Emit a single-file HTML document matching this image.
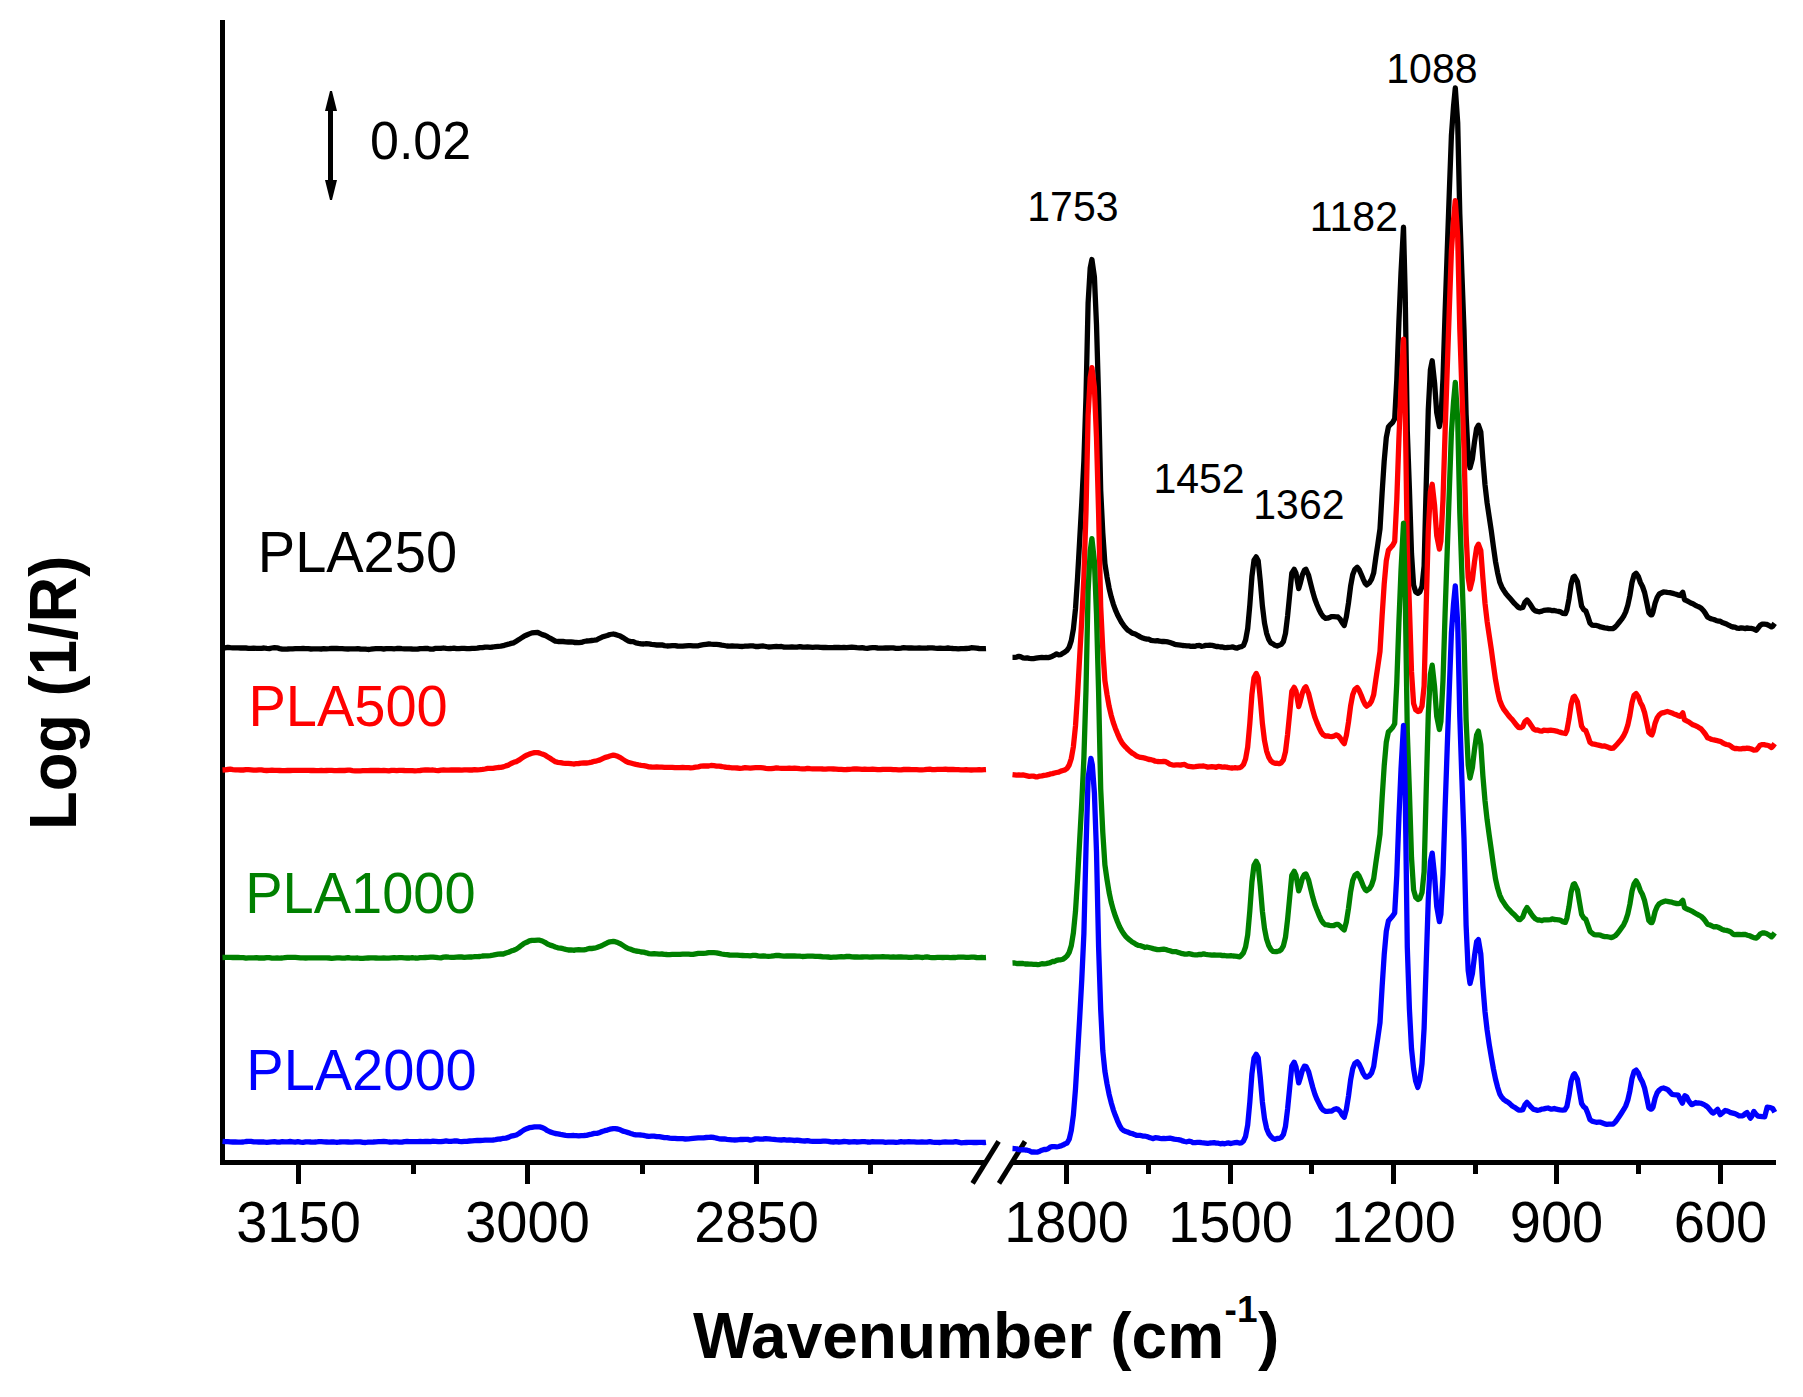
<!DOCTYPE html>
<html lang="en"><head><meta charset="utf-8"><title>PLA spectra</title>
<style>html,body{margin:0;padding:0;background:#fff;}svg{display:block;}text{font-family:"Liberation Sans",sans-serif;fill:#000;}.tk{font-size:56px;text-anchor:middle;}.pk{font-size:41px;}.lb{font-size:56px;}.ax{font-size:64px;font-weight:bold;}</style></head><body>
<svg width="1803" height="1397" viewBox="0 0 1803 1397">
<rect width="1803" height="1397" fill="#fff"/>
<g fill="#000" stroke="none" shape-rendering="crispEdges">
<rect x="220" y="20" width="5" height="1145"/>
<rect x="220" y="1160" width="765.5" height="5"/>
<rect x="1012.5" y="1160" width="763" height="5"/>
<rect x="296.0" y="1163" width="5" height="21"/>
<rect x="525.0" y="1163" width="5" height="21"/>
<rect x="754.0" y="1163" width="5" height="21"/>
<rect x="1064.0" y="1163" width="5" height="21"/>
<rect x="1228.0" y="1163" width="5" height="21"/>
<rect x="1391.0" y="1163" width="5" height="21"/>
<rect x="1554.0" y="1163" width="5" height="21"/>
<rect x="1718.0" y="1163" width="5" height="21"/>
<rect x="411.0" y="1163" width="5" height="11"/>
<rect x="640.0" y="1163" width="5" height="11"/>
<rect x="868.0" y="1163" width="5" height="11"/>
<rect x="1146.0" y="1163" width="5" height="11"/>
<rect x="1309.0" y="1163" width="5" height="11"/>
<rect x="1473.0" y="1163" width="5" height="11"/>
<rect x="1636.0" y="1163" width="5" height="11"/>
</g>
<g stroke="#000" stroke-width="5" fill="none" stroke-linecap="butt">
<path d="M998.6,1141.4 L972.6,1183.4"/>
<path d="M1025,1141.4 L999,1183.4"/>
</g>
<g fill="none" stroke="#000000" stroke-width="5.3" stroke-linejoin="round" stroke-linecap="butt">
<path d="M222.5,648.1 L225.1,647.9 L227.7,647.4 L230.3,647.7 L232.9,647.9 L235.5,647.8 L238.1,647.9 L240.7,648.0 L243.3,648.0 L245.9,648.0 L248.5,648.3 L251.1,648.4 L253.7,648.1 L256.3,648.4 L258.9,648.4 L261.5,648.3 L264.1,648.0 L266.7,648.4 L269.3,648.6 L271.9,648.0 L274.5,647.6 L277.1,647.8 L279.7,648.6 L282.3,649.2 L284.9,649.1 L287.5,649.0 L290.1,648.8 L292.7,648.9 L295.3,648.7 L297.9,648.7 L300.5,648.6 L303.1,648.5 L305.7,648.6 L308.3,648.7 L310.9,649.0 L313.5,648.9 L316.1,648.8 L318.7,648.8 L321.3,649.0 L323.9,648.7 L326.5,648.8 L329.1,648.7 L331.7,648.5 L334.3,648.5 L336.9,648.5 L339.5,648.6 L342.1,648.7 L344.7,648.9 L348.0,649.0 L349.9,648.8 L352.5,648.8 L355.1,648.8 L357.7,648.7 L360.3,649.0 L362.9,649.1 L365.5,649.1 L368.1,649.5 L370.7,649.2 L373.3,648.8 L375.9,648.7 L378.5,648.7 L381.1,648.7 L383.7,649.0 L386.3,648.7 L388.9,648.6 L391.5,648.7 L394.1,648.9 L396.7,648.5 L399.3,648.5 L401.9,648.7 L404.5,648.8 L407.1,648.9 L409.7,648.8 L412.3,649.0 L414.9,649.1 L417.5,649.2 L420.1,648.6 L422.7,648.6 L425.3,648.4 L427.9,648.5 L430.5,649.2 L433.1,649.1 L435.7,648.3 L438.3,648.4 L440.9,648.4 L443.5,648.0 L446.1,648.4 L448.7,648.7 L451.3,648.5 L453.9,648.1 L456.5,648.6 L459.1,648.6 L461.7,648.4 L464.3,648.3 L466.9,648.6 L469.5,648.7 L472.1,648.3 L474.7,648.3 L477.3,648.2 L479.9,647.6 L482.5,647.6 L485.1,647.1 L487.7,647.1 L490.3,647.3 L492.9,647.0 L495.5,646.6 L498.1,646.4 L500.7,646.2 L503.3,645.7 L505.9,644.8 L508.5,644.2 L511.1,643.4 L513.7,642.8 L516.3,641.2 L518.9,639.6 L521.5,637.9 L524.1,636.2 L526.7,635.0 L529.3,633.9 L531.9,632.9 L534.5,632.6 L537.8,632.5 L539.7,633.4 L542.3,634.6 L544.9,635.4 L547.5,636.7 L550.1,638.2 L552.7,639.6 L555.3,641.1 L557.9,641.5 L560.5,641.5 L563.1,641.5 L565.7,641.8 L568.3,642.0 L570.9,641.9 L573.5,642.2 L574.4,642.5 L576.1,642.5 L578.7,642.7 L581.3,642.4 L583.9,641.5 L586.5,641.0 L589.1,640.8 L591.7,640.5 L594.3,640.2 L596.9,639.8 L599.5,638.3 L602.1,637.1 L604.7,636.2 L607.3,635.5 L609.9,634.5 L613.3,634.0 L615.1,634.4 L617.7,635.2 L620.3,636.1 L622.9,637.6 L625.5,639.2 L628.1,640.9 L630.7,641.6 L633.3,641.7 L635.9,642.9 L638.5,643.4 L641.1,643.8 L643.7,644.0 L646.3,643.6 L648.9,643.9 L651.5,644.4 L654.1,644.7 L656.7,645.0 L659.3,645.0 L661.9,644.9 L664.5,645.6 L667.1,646.0 L669.7,645.9 L672.3,645.6 L674.9,645.7 L677.5,646.0 L680.1,646.2 L682.7,646.2 L685.3,645.9 L688.7,645.6 L690.5,645.7 L693.1,645.9 L695.7,645.9 L698.3,645.8 L700.9,645.1 L703.5,644.7 L706.1,644.3 L708.7,644.0 L711.0,644.2 L713.9,644.3 L716.5,644.4 L719.1,644.6 L721.7,645.1 L724.3,645.5 L726.9,646.0 L729.5,646.1 L732.1,645.9 L734.7,646.2 L737.3,646.1 L739.9,646.3 L742.5,646.5 L745.1,646.1 L747.7,646.2 L750.3,645.9 L752.9,645.9 L755.5,646.5 L758.1,646.5 L760.7,646.2 L763.3,646.0 L765.9,646.5 L768.5,647.0 L771.1,646.8 L773.7,646.6 L776.3,646.5 L778.9,646.6 L781.5,646.5 L784.1,647.1 L786.7,647.2 L789.3,647.2 L791.9,646.9 L794.5,647.2 L797.1,647.1 L799.7,646.7 L802.3,647.0 L804.9,647.1 L807.5,647.0 L810.1,647.1 L812.7,647.3 L815.3,647.2 L817.9,647.1 L820.5,647.4 L823.1,647.5 L825.7,647.5 L828.3,647.6 L830.9,647.6 L833.5,647.5 L836.1,647.3 L838.7,647.5 L841.3,647.7 L843.9,647.3 L846.5,647.6 L849.1,647.3 L851.7,647.1 L854.3,647.4 L856.9,647.7 L859.5,647.8 L862.1,647.6 L864.7,648.2 L867.3,648.3 L869.9,647.9 L872.5,647.7 L875.1,647.7 L877.7,648.0 L880.3,648.1 L882.9,648.2 L885.5,647.9 L888.1,648.0 L890.7,647.9 L893.3,647.9 L895.9,648.4 L898.5,648.3 L901.1,648.1 L903.7,647.7 L906.3,647.8 L908.9,648.0 L911.5,648.0 L914.1,648.2 L916.7,648.2 L919.3,648.0 L921.9,648.1 L924.5,648.1 L927.1,648.0 L929.7,647.8 L932.3,647.9 L934.9,648.2 L937.5,648.4 L940.1,648.1 L942.7,648.4 L945.3,648.3 L947.9,648.0 L950.5,648.3 L953.1,648.5 L955.7,648.6 L958.3,648.9 L960.9,648.6 L963.5,648.6 L966.1,648.5 L968.7,648.4 L971.3,647.7 L973.9,647.9 L976.5,648.2 L979.1,648.5 L981.7,648.6 L984.3,648.7 L986.0,648.6"/>
<path d="M1012.5,657.4 L1014.6,657.4 L1016.7,657.1 L1018.8,656.3 L1020.9,656.9 L1023.0,657.9 L1025.1,658.2 L1027.2,657.9 L1029.3,658.4 L1031.4,658.6 L1033.5,658.6 L1036.0,658.2 L1037.7,657.9 L1039.8,657.6 L1041.9,657.4 L1044.0,657.6 L1046.1,657.5 L1048.2,657.6 L1050.3,657.1 L1052.4,656.2 L1054.5,655.1 L1056.6,653.9 L1058.7,654.9 L1060.8,654.7 L1062.9,653.2 L1065.0,651.9 L1067.1,650.3 L1069.2,647.1 L1071.3,640.6 L1073.4,629.0 L1075.5,608.7 L1077.6,577.0 L1079.7,539.6 L1081.8,502.4 L1083.9,460.7 L1086.0,396.9 L1088.1,303.2 L1090.2,268.0 L1091.9,259.5 L1094.4,276.8 L1096.5,324.6 L1098.6,397.6 L1100.7,490.3 L1102.8,532.9 L1104.9,563.5 L1107.0,576.9 L1109.1,588.3 L1111.2,597.1 L1113.3,604.1 L1115.4,609.9 L1117.5,614.7 L1119.6,618.8 L1121.7,622.6 L1123.8,625.6 L1125.9,628.2 L1128.0,630.3 L1130.1,631.6 L1132.2,633.1 L1134.3,633.7 L1136.4,634.7 L1138.5,635.9 L1140.6,637.1 L1142.7,638.0 L1144.8,638.6 L1146.9,639.1 L1149.0,639.2 L1151.1,640.4 L1153.2,640.7 L1155.3,640.8 L1157.4,640.6 L1159.5,641.2 L1161.6,641.5 L1163.7,641.4 L1165.8,641.6 L1167.9,641.9 L1170.0,642.6 L1172.1,643.3 L1174.2,644.1 L1176.3,644.7 L1178.4,644.9 L1180.5,645.1 L1182.6,645.5 L1184.7,645.6 L1186.8,645.8 L1188.9,645.8 L1191.0,646.3 L1193.1,646.1 L1195.2,646.3 L1197.3,645.6 L1199.4,645.4 L1201.5,646.3 L1203.6,646.0 L1205.7,645.4 L1207.8,645.3 L1209.9,645.2 L1212.0,645.3 L1214.1,645.9 L1216.2,646.5 L1218.3,646.5 L1220.4,647.0 L1222.5,647.0 L1224.6,647.6 L1226.7,647.5 L1228.8,647.3 L1230.9,647.2 L1233.0,647.0 L1235.1,647.8 L1237.2,648.0 L1239.7,647.0 L1241.4,646.6 L1243.5,645.5 L1245.6,640.0 L1247.7,628.5 L1249.8,605.3 L1251.9,576.7 L1254.0,560.3 L1256.2,556.9 L1258.2,560.7 L1260.3,581.2 L1262.4,605.9 L1264.5,623.0 L1266.6,633.3 L1268.7,639.4 L1270.8,642.8 L1272.9,643.8 L1275.0,645.3 L1277.1,646.0 L1279.0,645.3 L1281.3,644.4 L1283.4,641.7 L1285.5,633.4 L1287.6,616.0 L1289.7,594.6 L1291.8,573.2 L1294.2,569.3 L1296.0,573.1 L1298.7,588.6 L1300.2,583.5 L1302.3,575.0 L1304.4,570.2 L1305.9,569.2 L1308.6,575.3 L1310.7,583.9 L1312.8,592.1 L1314.9,599.2 L1317.0,604.8 L1319.1,609.7 L1321.2,613.8 L1323.3,616.7 L1325.6,618.4 L1327.5,618.2 L1329.6,617.4 L1331.7,616.6 L1333.8,616.7 L1336.3,616.8 L1338.0,617.0 L1340.1,619.1 L1342.2,622.7 L1344.2,625.5 L1346.4,616.6 L1348.5,602.9 L1350.6,586.3 L1352.7,574.8 L1354.8,569.4 L1357.2,567.3 L1359.0,569.4 L1361.1,574.0 L1363.2,579.1 L1365.3,583.5 L1366.7,584.9 L1369.5,582.7 L1371.6,579.1 L1373.7,572.8 L1375.8,557.7 L1377.9,543.6 L1380.0,528.8 L1382.1,493.2 L1384.2,460.9 L1386.3,437.4 L1388.4,426.9 L1390.5,424.4 L1392.6,422.6 L1394.7,418.7 L1396.8,380.0 L1398.9,322.2 L1401.0,272.5 L1403.5,227.2 L1405.2,294.3 L1407.3,431.4 L1409.4,488.7 L1411.5,553.5 L1413.6,585.1 L1415.7,591.9 L1418.1,593.4 L1419.9,591.7 L1422.0,586.5 L1424.1,566.0 L1426.2,485.6 L1428.3,409.6 L1430.4,369.8 L1432.2,360.8 L1434.6,383.0 L1436.7,412.5 L1439.4,426.6 L1440.9,418.8 L1443.0,378.4 L1445.1,312.3 L1447.2,252.0 L1449.3,192.5 L1451.4,135.8 L1453.5,106.8 L1455.3,87.9 L1457.7,122.6 L1459.8,213.7 L1461.9,273.5 L1464.0,330.0 L1466.1,414.4 L1468.2,456.9 L1470.0,467.7 L1472.4,458.8 L1474.5,441.8 L1476.6,428.5 L1478.4,425.2 L1480.8,432.0 L1482.9,459.7 L1485.0,484.8 L1487.1,502.9 L1489.2,516.9 L1491.3,530.9 L1493.4,546.7 L1495.5,561.4 L1497.6,572.8 L1499.7,582.0 L1501.8,587.1 L1503.9,590.6 L1506.0,593.8 L1508.1,596.2 L1510.2,598.6 L1512.3,601.0 L1514.4,603.4 L1516.5,605.5 L1518.6,607.5 L1519.8,607.9 L1520.7,608.0 L1522.8,607.5 L1524.9,602.3 L1527.0,600.0 L1529.1,602.6 L1531.2,605.8 L1533.3,609.2 L1535.4,610.9 L1537.5,611.4 L1539.6,611.8 L1542.0,611.1 L1543.8,610.4 L1545.9,610.1 L1548.0,610.0 L1550.7,610.2 L1552.2,610.6 L1554.3,610.5 L1556.4,611.0 L1558.5,611.3 L1560.6,611.8 L1562.7,613.3 L1565.4,613.7 L1566.9,610.1 L1569.0,598.9 L1571.1,584.2 L1573.2,577.1 L1574.5,576.2 L1577.4,581.5 L1579.5,593.9 L1581.6,606.2 L1583.7,609.7 L1585.8,611.0 L1587.9,616.6 L1590.0,623.1 L1592.1,625.1 L1594.2,625.4 L1596.3,625.4 L1598.4,626.1 L1600.5,626.9 L1602.6,627.3 L1604.7,627.8 L1606.8,628.2 L1608.9,628.6 L1611.5,628.7 L1613.1,628.5 L1615.2,627.0 L1617.3,624.7 L1619.4,622.0 L1621.5,619.4 L1623.6,616.3 L1625.7,611.9 L1627.8,605.3 L1629.9,595.5 L1632.0,582.5 L1634.1,575.0 L1636.1,573.2 L1638.3,576.5 L1640.4,582.5 L1642.5,586.5 L1644.6,592.5 L1646.7,602.1 L1648.8,612.6 L1650.9,614.8 L1651.9,614.9 L1653.0,612.0 L1655.1,603.1 L1657.2,597.3 L1659.3,594.0 L1661.4,593.0 L1663.5,592.0 L1665.6,592.1 L1667.3,592.4 L1669.8,592.7 L1671.9,593.2 L1674.0,593.7 L1676.1,594.3 L1678.2,595.1 L1680.0,595.5 L1682.8,592.3 L1684.5,599.7 L1686.6,600.6 L1688.7,601.8 L1690.8,603.0 L1692.9,603.8 L1695.0,605.1 L1697.1,606.1 L1699.2,607.0 L1701.3,608.3 L1703.4,610.5 L1705.5,613.6 L1707.6,617.2 L1709.7,618.2 L1711.8,619.0 L1713.9,619.5 L1716.0,620.4 L1718.1,621.1 L1720.2,621.2 L1722.3,622.5 L1724.4,623.2 L1726.5,624.0 L1728.6,625.2 L1730.7,626.2 L1732.8,627.0 L1734.9,627.2 L1737.0,628.2 L1739.1,628.4 L1741.2,627.8 L1743.3,628.2 L1745.4,628.6 L1746.8,628.0 L1749.6,628.3 L1751.7,628.4 L1753.8,629.1 L1756.4,630.3 L1758.0,628.1 L1760.1,625.3 L1762.2,624.2 L1764.3,624.1 L1766.4,624.3 L1768.5,625.2 L1771.5,626.9 L1772.7,626.2 L1774.7,623.4"/>
</g>
<g fill="none" stroke="#ff0000" stroke-width="5.3" stroke-linejoin="round" stroke-linecap="butt">
<path d="M222.5,770.0 L225.1,769.8 L227.7,769.5 L230.3,769.2 L232.9,769.6 L235.5,769.8 L238.1,769.8 L240.7,770.0 L243.3,770.0 L245.9,769.7 L248.5,769.7 L251.1,769.9 L253.7,770.2 L256.3,770.2 L258.9,769.8 L261.5,769.9 L264.1,770.3 L266.7,770.5 L269.3,770.3 L271.9,770.2 L274.5,770.4 L277.1,770.3 L279.7,770.5 L282.3,770.7 L284.9,770.6 L287.5,770.5 L290.1,770.5 L292.7,770.3 L295.3,770.3 L297.9,770.3 L300.5,770.3 L303.1,770.3 L305.7,770.4 L308.3,770.4 L310.9,770.5 L313.5,770.5 L316.1,770.7 L318.7,770.7 L321.3,770.4 L323.9,770.7 L326.5,770.5 L329.1,770.3 L331.7,770.4 L334.3,770.6 L336.9,770.7 L339.5,770.4 L342.1,770.5 L344.7,770.5 L348.0,770.2 L349.9,770.2 L352.5,770.6 L355.1,770.8 L357.7,770.8 L360.3,770.8 L362.9,770.7 L365.5,770.7 L368.1,770.7 L370.7,770.4 L373.3,770.5 L375.9,770.5 L378.5,770.3 L381.1,770.6 L383.7,770.4 L386.3,770.6 L388.9,770.9 L391.5,770.4 L394.1,770.4 L396.7,770.7 L399.3,770.3 L401.9,770.3 L404.5,770.5 L407.1,770.6 L409.7,770.6 L412.3,770.6 L414.9,770.8 L417.5,770.7 L420.1,770.5 L422.7,770.2 L425.3,770.0 L427.9,769.9 L430.5,770.2 L433.1,770.0 L435.7,770.4 L438.3,770.6 L440.9,770.1 L443.5,770.0 L446.1,770.1 L448.7,770.2 L451.3,770.0 L453.9,770.0 L456.5,769.9 L459.1,770.0 L461.7,770.2 L464.3,769.9 L466.9,769.9 L469.5,770.0 L472.1,770.0 L474.7,769.7 L477.3,769.8 L479.9,769.7 L482.5,769.4 L485.1,769.0 L487.7,768.4 L490.3,768.3 L492.9,768.3 L495.5,767.9 L498.1,767.5 L500.7,767.4 L503.3,766.9 L505.9,765.9 L508.5,765.1 L511.1,763.5 L513.7,762.3 L516.3,761.6 L518.9,760.2 L521.5,758.4 L524.1,756.6 L526.7,755.2 L529.3,754.1 L531.9,753.3 L534.5,752.6 L537.8,752.6 L539.7,753.1 L542.3,754.1 L544.9,755.0 L547.5,756.7 L550.1,758.3 L552.7,760.1 L555.3,761.7 L557.9,762.3 L560.5,762.6 L563.1,763.1 L565.7,763.4 L568.3,763.3 L570.9,763.6 L573.5,764.0 L574.4,764.0 L576.1,763.7 L578.7,763.5 L581.3,763.2 L583.9,762.9 L586.5,763.0 L589.1,762.7 L591.7,762.1 L594.3,761.3 L596.9,760.8 L599.5,760.1 L602.1,758.8 L604.7,757.6 L607.3,756.9 L609.9,756.0 L613.3,755.2 L615.1,755.4 L617.7,756.3 L620.3,757.6 L622.9,759.4 L625.5,761.1 L628.1,762.4 L630.7,763.0 L633.3,763.7 L635.9,764.4 L638.5,764.9 L641.1,765.3 L643.7,765.6 L646.3,766.2 L648.9,766.8 L651.5,767.0 L654.1,767.1 L656.7,767.0 L659.3,767.2 L661.9,767.2 L664.5,767.4 L667.1,767.3 L669.7,767.3 L672.3,767.4 L674.9,767.7 L677.5,767.7 L680.1,767.7 L682.7,767.5 L685.3,767.6 L688.7,767.6 L690.5,767.9 L693.1,767.6 L695.7,767.2 L698.3,766.8 L700.9,766.2 L703.5,766.0 L706.1,766.0 L708.7,766.0 L711.0,765.5 L713.9,765.7 L716.5,766.1 L719.1,766.2 L721.7,766.5 L724.3,767.0 L726.9,767.3 L729.5,767.5 L732.1,767.9 L734.7,767.8 L737.3,768.0 L739.9,768.3 L742.5,768.2 L745.1,767.7 L747.7,767.9 L750.3,768.1 L752.9,767.8 L755.5,767.7 L758.1,767.7 L760.7,767.7 L763.3,767.9 L765.9,768.3 L768.5,768.6 L771.1,768.7 L773.7,768.3 L776.3,767.9 L778.9,768.2 L781.5,768.3 L784.1,768.4 L786.7,768.3 L789.3,768.1 L791.9,768.3 L794.5,768.1 L797.1,768.3 L799.7,768.6 L802.3,768.8 L804.9,768.8 L807.5,768.3 L810.1,768.7 L812.7,768.9 L815.3,768.8 L817.9,768.9 L820.5,768.8 L823.1,769.0 L825.7,769.1 L828.3,768.8 L830.9,768.9 L833.5,769.0 L836.1,769.1 L838.7,769.3 L841.3,769.4 L843.9,769.6 L846.5,769.5 L849.1,769.3 L851.7,769.2 L854.3,769.0 L856.9,769.0 L859.5,769.1 L862.1,769.3 L864.7,769.2 L867.3,769.3 L869.9,769.3 L872.5,769.2 L875.1,769.4 L877.7,769.7 L880.3,769.7 L882.9,769.3 L885.5,769.3 L888.1,769.3 L890.7,769.4 L893.3,769.7 L895.9,769.7 L898.5,769.8 L901.1,769.8 L903.7,769.5 L906.3,769.4 L908.9,769.5 L911.5,769.7 L914.1,769.6 L916.7,769.7 L919.3,769.8 L921.9,769.8 L924.5,769.6 L927.1,769.3 L929.7,769.2 L932.3,769.7 L934.9,769.6 L937.5,769.4 L940.1,769.4 L942.7,769.3 L945.3,769.2 L947.9,769.5 L950.5,769.4 L953.1,769.5 L955.7,769.7 L958.3,769.7 L960.9,769.8 L963.5,769.8 L966.1,769.7 L968.7,769.8 L971.3,770.0 L973.9,769.9 L976.5,769.9 L979.1,769.7 L981.7,769.8 L984.3,769.7 L986.0,769.6"/>
<path d="M1012.5,774.6 L1014.6,774.8 L1016.7,775.1 L1018.8,774.9 L1020.9,775.1 L1023.0,774.9 L1025.1,775.3 L1027.2,775.8 L1029.3,776.3 L1031.4,776.2 L1033.5,776.2 L1036.0,776.8 L1037.7,776.8 L1039.8,776.1 L1041.9,775.9 L1044.0,775.4 L1046.1,775.2 L1048.2,774.7 L1050.3,773.9 L1052.4,773.6 L1054.5,773.0 L1056.6,772.5 L1058.7,772.1 L1060.8,771.1 L1062.9,770.5 L1065.0,769.9 L1067.1,768.4 L1069.2,765.0 L1071.3,758.5 L1073.4,746.6 L1075.5,726.0 L1077.6,694.0 L1079.7,656.3 L1081.8,618.9 L1083.9,576.8 L1086.0,511.9 L1088.1,415.6 L1090.2,377.8 L1091.9,367.7 L1094.4,387.3 L1096.5,437.6 L1098.6,513.2 L1100.7,606.6 L1102.8,649.6 L1104.9,680.7 L1107.0,694.4 L1109.1,706.2 L1111.2,715.2 L1113.3,722.5 L1115.4,728.4 L1117.5,733.6 L1119.6,738.4 L1121.7,742.3 L1123.8,745.1 L1125.9,747.3 L1128.0,749.6 L1130.1,751.4 L1132.2,753.1 L1134.3,754.3 L1136.4,755.9 L1138.5,756.7 L1140.6,757.4 L1142.7,757.7 L1144.8,758.1 L1146.9,758.7 L1149.0,759.5 L1151.1,759.7 L1153.2,760.3 L1155.3,761.2 L1157.4,761.5 L1159.5,761.6 L1161.6,761.7 L1163.7,761.4 L1165.8,761.7 L1167.9,762.9 L1170.0,764.2 L1172.1,764.8 L1174.2,765.1 L1176.3,764.9 L1178.4,764.8 L1180.5,765.2 L1182.6,764.7 L1184.7,764.5 L1186.8,765.7 L1188.9,766.4 L1191.0,766.6 L1193.1,766.9 L1195.2,766.7 L1197.3,766.4 L1199.4,766.1 L1201.5,766.1 L1203.6,766.0 L1205.7,766.5 L1207.8,767.1 L1209.9,766.9 L1212.0,766.7 L1214.1,766.8 L1216.2,767.3 L1218.3,766.4 L1220.4,766.6 L1222.5,767.2 L1224.6,767.0 L1226.7,767.1 L1228.8,767.7 L1230.9,768.0 L1233.0,768.0 L1235.1,767.7 L1237.2,768.0 L1239.7,767.6 L1241.4,766.8 L1243.5,764.5 L1245.6,758.9 L1247.7,747.0 L1249.8,723.4 L1251.9,694.5 L1254.0,677.7 L1256.2,673.4 L1258.2,677.8 L1260.3,698.6 L1262.4,723.4 L1264.5,740.6 L1266.6,751.1 L1268.7,757.1 L1270.8,760.8 L1272.9,762.6 L1275.0,763.3 L1277.1,763.2 L1279.0,763.7 L1281.3,762.7 L1283.4,759.9 L1285.5,751.6 L1287.6,734.3 L1289.7,712.9 L1291.8,691.4 L1294.2,687.4 L1296.0,691.1 L1298.7,706.6 L1300.2,701.4 L1302.3,693.0 L1304.4,688.2 L1305.9,686.8 L1308.6,693.4 L1310.7,702.0 L1312.8,710.3 L1314.9,717.4 L1317.0,722.9 L1319.1,727.8 L1321.2,732.1 L1323.3,734.8 L1325.6,736.1 L1327.5,735.8 L1329.6,736.3 L1331.7,736.7 L1333.8,736.2 L1336.3,734.8 L1338.0,735.6 L1340.1,737.9 L1342.2,741.2 L1344.2,743.7 L1346.4,735.4 L1348.5,722.2 L1350.6,706.0 L1352.7,694.8 L1354.8,689.6 L1357.2,687.5 L1359.0,690.2 L1361.1,695.0 L1363.2,700.5 L1365.3,704.7 L1366.7,706.2 L1369.5,704.2 L1371.6,701.0 L1373.7,694.7 L1375.8,679.9 L1377.9,665.9 L1380.0,651.4 L1382.1,616.1 L1384.2,584.0 L1386.3,560.7 L1388.4,550.2 L1390.5,547.7 L1392.6,545.4 L1394.7,541.4 L1396.8,499.9 L1398.9,439.4 L1401.0,387.0 L1403.5,339.1 L1405.2,407.7 L1407.3,547.4 L1409.4,606.4 L1411.5,671.7 L1413.6,703.5 L1415.7,709.9 L1418.1,711.5 L1419.9,710.9 L1422.0,706.1 L1424.1,686.1 L1426.2,606.3 L1428.3,530.8 L1430.4,491.6 L1432.2,484.3 L1434.6,505.6 L1436.7,535.4 L1439.4,549.1 L1440.9,541.1 L1443.0,499.4 L1445.1,431.9 L1447.2,370.1 L1449.3,309.2 L1451.4,251.1 L1453.5,220.5 L1455.3,200.6 L1457.7,236.7 L1459.8,329.2 L1461.9,390.5 L1464.0,448.3 L1466.1,534.1 L1468.2,577.7 L1470.0,589.1 L1472.4,579.7 L1474.5,561.9 L1476.6,547.8 L1478.4,544.2 L1480.8,550.5 L1482.9,578.2 L1485.0,603.3 L1487.1,621.3 L1489.2,635.3 L1491.3,649.3 L1493.4,664.9 L1495.5,679.6 L1497.6,691.1 L1499.7,700.3 L1501.8,705.5 L1503.9,709.4 L1506.0,712.2 L1508.1,715.0 L1510.2,717.5 L1512.3,719.7 L1514.4,722.3 L1516.5,725.1 L1518.6,727.4 L1519.8,727.7 L1520.7,727.6 L1522.8,726.4 L1524.9,721.5 L1527.0,719.8 L1529.1,722.3 L1531.2,725.4 L1533.3,728.7 L1535.4,730.1 L1537.5,730.0 L1539.6,730.8 L1542.0,731.1 L1543.8,730.2 L1545.9,730.3 L1548.0,730.5 L1550.7,730.2 L1552.2,730.4 L1554.3,730.7 L1556.4,731.1 L1558.5,731.8 L1560.6,732.4 L1562.7,733.0 L1565.4,733.5 L1566.9,730.4 L1569.0,719.1 L1571.1,704.5 L1573.2,697.3 L1574.5,696.2 L1577.4,701.7 L1579.5,714.0 L1581.6,726.2 L1583.7,729.5 L1585.8,730.6 L1587.9,736.1 L1590.0,742.4 L1592.1,743.8 L1594.2,744.2 L1596.3,744.7 L1598.4,745.1 L1600.5,745.6 L1602.6,746.2 L1604.7,746.0 L1606.8,746.8 L1608.9,747.6 L1611.5,748.4 L1613.1,748.2 L1615.2,746.3 L1617.3,744.0 L1619.4,741.6 L1621.5,739.0 L1623.6,735.8 L1625.7,731.4 L1627.8,725.2 L1629.9,715.4 L1632.0,702.6 L1634.1,695.2 L1636.1,693.6 L1638.3,696.7 L1640.4,702.4 L1642.5,706.3 L1644.6,712.6 L1646.7,722.3 L1648.8,732.4 L1650.9,734.5 L1651.9,734.9 L1653.0,732.1 L1655.1,723.2 L1657.2,717.7 L1659.3,714.8 L1661.4,713.2 L1663.5,712.7 L1665.6,712.0 L1667.3,711.5 L1669.8,712.2 L1671.9,712.9 L1674.0,714.0 L1676.1,714.6 L1678.2,715.7 L1680.0,716.3 L1682.8,712.8 L1684.5,719.9 L1686.6,720.8 L1688.7,721.8 L1690.8,723.3 L1692.9,724.8 L1695.0,725.6 L1697.1,726.4 L1699.2,727.8 L1701.3,729.1 L1703.4,731.6 L1705.5,734.4 L1707.6,737.8 L1709.7,738.6 L1711.8,739.5 L1713.9,739.9 L1716.0,740.3 L1718.1,740.9 L1720.2,741.3 L1722.3,742.6 L1724.4,743.8 L1726.5,744.5 L1728.6,744.8 L1730.7,746.0 L1732.8,747.8 L1734.9,748.6 L1737.0,748.5 L1739.1,748.8 L1741.2,748.8 L1743.3,748.3 L1745.4,748.5 L1746.8,748.2 L1749.6,748.5 L1751.7,749.1 L1753.8,750.2 L1756.4,749.9 L1758.0,748.0 L1760.1,745.2 L1762.2,744.6 L1764.0,744.6 L1766.4,745.2 L1768.5,745.5 L1771.5,747.5 L1772.7,746.4 L1774.7,743.6"/>
</g>
<g fill="none" stroke="#008000" stroke-width="5.3" stroke-linejoin="round" stroke-linecap="butt">
<path d="M222.5,957.5 L225.1,957.4 L227.7,957.4 L230.3,957.3 L232.9,957.5 L235.5,957.4 L238.1,957.5 L240.7,957.6 L243.3,957.7 L245.9,958.2 L248.5,957.8 L251.1,957.9 L253.7,957.9 L256.3,957.7 L258.9,958.0 L261.5,957.9 L264.1,958.0 L266.7,957.7 L269.3,957.7 L271.9,958.1 L274.5,958.1 L277.1,958.0 L279.7,958.1 L282.3,958.0 L284.9,957.6 L287.5,957.3 L290.1,957.3 L292.7,957.3 L295.3,957.4 L297.9,957.6 L300.5,957.8 L303.1,957.9 L305.7,958.0 L308.3,957.9 L310.9,957.9 L313.5,957.9 L316.1,957.8 L318.7,957.8 L321.3,957.9 L323.9,957.8 L326.5,957.8 L329.1,958.0 L331.7,958.3 L334.3,958.1 L336.9,957.9 L339.5,957.9 L342.1,958.1 L344.7,958.2 L348.0,957.6 L349.9,957.9 L352.5,958.2 L355.1,958.1 L357.7,958.0 L360.3,958.4 L362.9,958.3 L365.5,958.1 L368.1,958.0 L370.7,957.9 L373.3,957.9 L375.9,958.0 L378.5,958.2 L381.1,958.1 L383.7,958.0 L386.3,958.1 L388.9,958.1 L391.5,957.9 L394.1,957.7 L396.7,957.9 L399.3,957.6 L401.9,957.6 L404.5,957.8 L407.1,958.0 L409.7,958.0 L412.3,957.6 L414.9,958.0 L417.5,958.1 L420.1,957.7 L422.7,957.6 L425.3,957.5 L427.9,957.4 L430.5,957.2 L433.1,957.1 L435.7,957.4 L438.3,957.7 L440.9,957.8 L443.5,957.2 L446.1,956.9 L448.7,957.2 L451.3,957.3 L453.9,957.3 L456.5,957.1 L459.1,956.9 L461.7,957.0 L464.3,957.3 L466.9,957.1 L469.5,956.9 L472.1,957.0 L474.7,956.6 L477.3,956.6 L479.9,956.5 L482.5,956.0 L485.1,955.8 L487.7,955.8 L490.3,955.6 L492.9,955.2 L495.5,954.7 L498.1,954.2 L500.7,954.0 L503.3,954.0 L505.9,953.0 L508.5,952.2 L511.1,951.1 L513.7,950.2 L516.3,949.1 L518.9,947.4 L521.5,945.3 L524.1,943.4 L526.7,942.3 L529.3,940.9 L531.9,940.3 L534.5,940.4 L537.8,940.2 L539.7,940.2 L542.3,941.0 L544.9,942.3 L547.5,944.0 L550.1,945.1 L552.7,945.9 L555.3,947.0 L557.9,947.8 L560.5,948.2 L563.1,948.7 L565.7,949.4 L568.3,950.0 L570.9,950.0 L573.5,950.1 L574.4,950.3 L576.1,949.8 L578.7,949.7 L581.3,949.9 L583.9,949.8 L586.5,949.3 L589.1,948.5 L591.7,948.5 L594.3,948.2 L596.9,947.5 L599.5,946.6 L602.1,945.5 L604.7,944.1 L607.3,942.8 L609.9,941.8 L613.3,941.4 L615.1,941.7 L617.7,942.6 L620.3,943.7 L622.9,945.4 L625.5,947.1 L628.1,948.5 L630.7,949.3 L633.3,950.4 L635.9,951.0 L638.5,951.3 L641.1,952.0 L643.7,952.2 L646.3,952.8 L648.9,953.6 L651.5,953.9 L654.1,953.7 L656.7,953.8 L659.3,954.1 L661.9,954.0 L664.5,954.3 L667.1,954.5 L669.7,954.6 L672.3,954.4 L674.9,954.3 L677.5,954.4 L680.1,954.3 L682.7,954.1 L685.3,954.1 L688.7,954.2 L690.5,954.4 L693.1,954.4 L695.7,953.9 L698.3,953.4 L700.9,953.3 L703.5,953.3 L706.1,953.1 L708.7,952.6 L711.0,952.6 L713.9,952.7 L716.5,952.8 L719.1,953.4 L721.7,954.0 L724.3,954.4 L726.9,954.7 L729.5,955.0 L732.1,955.2 L734.7,955.1 L737.3,955.1 L739.9,955.4 L742.5,955.5 L745.1,955.6 L747.7,955.6 L750.3,955.8 L752.9,955.4 L755.5,955.4 L758.1,955.9 L760.7,956.1 L763.3,955.9 L765.9,956.2 L768.5,956.3 L771.1,956.2 L773.7,955.8 L776.3,955.4 L778.9,955.5 L781.5,955.8 L784.1,956.1 L786.7,956.0 L789.3,956.0 L791.9,956.0 L794.5,955.9 L797.1,956.1 L799.7,956.1 L802.3,956.5 L804.9,956.4 L807.5,956.2 L810.1,956.1 L812.7,956.1 L815.3,956.3 L817.9,956.3 L820.5,956.5 L823.1,956.8 L825.7,956.8 L828.3,957.0 L830.9,957.3 L833.5,957.2 L836.1,957.1 L838.7,956.8 L841.3,956.6 L843.9,956.8 L846.5,956.5 L849.1,956.3 L851.7,956.9 L854.3,957.0 L856.9,956.9 L859.5,957.2 L862.1,957.0 L864.7,956.8 L867.3,956.9 L869.9,957.2 L872.5,957.0 L875.1,956.9 L877.7,956.9 L880.3,956.8 L882.9,956.6 L885.5,956.8 L888.1,956.9 L890.7,957.1 L893.3,957.0 L895.9,957.1 L898.5,957.0 L901.1,956.9 L903.7,957.1 L906.3,957.2 L908.9,957.3 L911.5,957.3 L914.1,957.2 L916.7,956.9 L919.3,957.1 L921.9,957.5 L924.5,957.2 L927.1,956.8 L929.7,957.3 L932.3,957.7 L934.9,957.6 L937.5,957.4 L940.1,957.4 L942.7,957.5 L945.3,957.3 L947.9,957.4 L950.5,957.6 L953.1,957.5 L955.7,957.5 L958.3,957.1 L960.9,957.1 L963.5,957.2 L966.1,957.4 L968.7,957.3 L971.3,957.2 L973.9,957.2 L976.5,957.5 L979.1,957.6 L981.7,957.5 L984.3,957.6 L986.0,957.5"/>
<path d="M1012.5,963.0 L1014.6,962.9 L1016.7,963.6 L1018.8,963.5 L1020.9,963.4 L1023.0,963.5 L1025.1,964.0 L1027.2,963.9 L1029.3,964.2 L1031.4,964.2 L1033.5,964.3 L1036.0,964.4 L1037.7,964.6 L1039.8,964.3 L1041.9,963.7 L1044.0,963.8 L1046.1,963.6 L1048.2,963.2 L1050.3,962.6 L1052.4,961.5 L1054.5,961.5 L1056.6,960.4 L1058.7,959.9 L1060.8,959.8 L1062.9,959.2 L1065.0,957.8 L1067.1,955.9 L1069.2,952.4 L1071.3,945.6 L1073.4,932.7 L1075.5,911.3 L1077.6,878.5 L1079.7,839.9 L1081.8,801.8 L1083.9,758.0 L1086.0,690.2 L1088.1,591.4 L1090.2,551.1 L1091.9,538.6 L1094.4,561.3 L1096.5,614.2 L1098.6,692.3 L1100.7,788.8 L1102.8,832.7 L1104.9,864.9 L1107.0,879.5 L1109.1,892.4 L1111.2,902.2 L1113.3,909.9 L1115.4,916.3 L1117.5,921.8 L1119.6,926.7 L1121.7,930.6 L1123.8,933.9 L1125.9,936.6 L1128.0,938.7 L1130.1,940.3 L1132.2,942.0 L1134.3,943.1 L1136.4,944.6 L1138.5,945.4 L1140.6,945.7 L1142.7,946.4 L1144.8,947.5 L1146.9,947.0 L1149.0,947.5 L1151.1,948.0 L1153.2,948.6 L1155.3,949.1 L1157.4,949.6 L1159.5,949.7 L1161.6,949.4 L1163.7,949.1 L1165.8,949.5 L1167.9,950.2 L1170.0,950.8 L1172.1,951.5 L1174.2,951.6 L1176.3,951.7 L1178.4,952.4 L1180.5,953.1 L1182.6,953.7 L1184.7,954.1 L1186.8,954.1 L1188.9,953.7 L1191.0,954.1 L1193.1,954.6 L1195.2,954.8 L1197.3,954.8 L1199.4,954.4 L1201.5,954.5 L1203.6,953.8 L1205.7,954.3 L1207.8,954.7 L1209.9,954.8 L1212.0,955.1 L1214.1,954.9 L1216.2,955.1 L1218.3,955.2 L1220.4,955.2 L1222.5,955.7 L1224.6,955.5 L1226.7,955.8 L1228.8,955.8 L1230.9,955.7 L1233.0,956.0 L1235.1,956.1 L1237.2,956.3 L1239.7,956.8 L1241.4,955.2 L1243.5,952.7 L1245.6,946.9 L1247.7,934.9 L1249.8,911.1 L1251.9,882.1 L1254.0,865.2 L1256.2,861.3 L1258.2,865.4 L1260.3,886.2 L1262.4,911.2 L1264.5,928.5 L1266.6,939.2 L1268.7,945.4 L1270.8,949.3 L1272.9,951.3 L1275.5,951.7 L1277.1,951.5 L1279.2,951.0 L1281.3,949.5 L1283.4,945.9 L1285.5,937.2 L1287.6,919.3 L1289.7,897.3 L1291.8,875.3 L1294.2,871.3 L1296.0,875.4 L1298.7,890.8 L1300.2,886.6 L1302.3,878.6 L1304.4,874.6 L1305.9,873.9 L1308.6,880.0 L1310.7,888.8 L1312.8,897.3 L1314.9,904.5 L1317.0,910.1 L1319.1,915.3 L1321.2,919.9 L1323.3,923.0 L1325.4,924.7 L1327.5,924.9 L1329.6,925.4 L1331.0,925.6 L1333.8,925.5 L1336.3,924.3 L1338.0,924.4 L1340.1,926.0 L1342.2,928.3 L1344.2,930.0 L1346.4,921.7 L1348.5,908.3 L1350.6,891.9 L1352.7,880.6 L1354.8,875.4 L1357.2,873.5 L1359.0,875.9 L1361.1,880.5 L1363.2,885.9 L1365.3,889.8 L1366.7,890.7 L1369.5,888.7 L1371.6,885.1 L1373.7,878.6 L1375.8,863.3 L1377.9,849.0 L1380.0,834.1 L1382.1,798.3 L1384.2,765.8 L1386.3,742.1 L1388.4,731.9 L1390.5,729.8 L1392.6,727.5 L1394.7,723.8 L1396.8,682.7 L1398.9,622.7 L1401.0,570.7 L1403.5,523.2 L1405.2,592.2 L1407.3,732.1 L1409.4,791.6 L1411.5,857.5 L1413.6,889.9 L1415.7,897.3 L1418.1,899.5 L1419.9,898.4 L1422.0,892.7 L1424.1,871.7 L1426.2,790.9 L1428.3,714.4 L1430.4,674.2 L1432.2,665.2 L1434.6,686.9 L1436.7,716.2 L1439.4,729.5 L1440.9,721.6 L1443.0,680.3 L1445.1,613.1 L1447.2,551.7 L1449.3,491.0 L1451.4,432.9 L1453.5,402.4 L1455.3,382.5 L1457.7,419.3 L1459.8,512.6 L1461.9,574.5 L1464.0,633.0 L1466.1,719.9 L1468.2,764.9 L1470.0,778.0 L1472.4,767.6 L1474.5,749.5 L1476.6,735.1 L1478.4,731.1 L1480.8,744.4 L1482.9,776.0 L1485.0,800.8 L1487.1,819.7 L1489.2,835.2 L1491.3,849.9 L1493.4,865.2 L1495.5,878.8 L1497.6,888.1 L1499.7,895.1 L1501.8,899.7 L1503.9,902.9 L1506.0,906.1 L1508.1,908.7 L1510.2,910.7 L1512.3,913.0 L1514.4,914.8 L1516.5,917.0 L1518.6,919.4 L1519.8,919.7 L1520.7,918.9 L1522.8,916.8 L1524.9,911.1 L1527.0,907.6 L1529.1,910.5 L1531.2,913.7 L1533.3,916.7 L1535.4,918.8 L1537.5,920.0 L1539.6,920.0 L1542.0,920.6 L1543.8,919.9 L1545.9,919.8 L1548.0,919.9 L1550.7,919.7 L1552.2,918.9 L1554.3,919.5 L1556.4,919.6 L1558.5,919.8 L1560.6,920.4 L1562.7,921.6 L1565.4,922.4 L1566.9,918.1 L1569.0,906.8 L1571.1,892.2 L1573.2,884.7 L1574.5,883.7 L1577.4,889.8 L1579.5,902.2 L1581.6,914.4 L1583.7,917.8 L1585.8,919.4 L1587.9,925.1 L1590.0,931.2 L1592.1,933.1 L1594.2,934.6 L1596.3,934.9 L1598.4,934.9 L1600.5,935.2 L1602.6,936.1 L1604.7,936.6 L1606.8,936.7 L1608.9,937.0 L1611.5,937.6 L1613.1,937.0 L1615.2,935.8 L1617.3,933.6 L1619.4,930.8 L1621.5,927.9 L1623.6,924.9 L1625.7,920.4 L1627.8,914.0 L1629.9,904.2 L1632.0,891.3 L1634.1,883.7 L1636.1,880.9 L1638.3,884.8 L1640.4,890.7 L1642.5,894.6 L1644.6,900.7 L1646.7,910.3 L1648.8,920.4 L1650.9,922.6 L1651.9,922.6 L1653.0,920.1 L1655.1,911.5 L1657.2,906.5 L1659.3,903.7 L1661.4,902.5 L1663.5,901.6 L1665.6,901.0 L1667.3,901.3 L1669.8,901.8 L1671.9,902.2 L1674.0,902.9 L1676.1,903.5 L1678.2,903.6 L1680.0,903.4 L1682.8,900.4 L1684.5,907.7 L1686.6,908.8 L1688.7,909.7 L1690.8,910.7 L1692.9,911.7 L1695.0,913.0 L1697.1,914.2 L1699.2,915.3 L1701.3,916.5 L1703.4,918.5 L1705.5,921.2 L1707.6,924.4 L1709.7,924.8 L1711.8,925.9 L1713.9,926.9 L1716.0,926.6 L1718.1,927.3 L1720.2,928.2 L1722.3,929.5 L1724.4,930.1 L1726.5,930.4 L1728.6,931.0 L1730.7,931.9 L1732.8,933.9 L1734.9,934.7 L1737.0,934.5 L1739.1,934.5 L1742.0,934.6 L1743.3,934.3 L1745.4,934.5 L1747.5,935.2 L1749.6,935.8 L1751.7,936.7 L1753.8,937.6 L1756.4,938.1 L1758.0,936.7 L1760.1,934.1 L1762.2,933.0 L1764.0,932.9 L1766.4,933.5 L1768.5,934.7 L1771.5,936.8 L1772.7,935.6 L1774.7,932.9"/>
</g>
<g fill="none" stroke="#0000ff" stroke-width="5.3" stroke-linejoin="round" stroke-linecap="butt">
<path d="M222.5,1141.4 L225.1,1141.6 L227.7,1141.6 L230.3,1141.8 L232.9,1142.0 L235.5,1142.0 L238.1,1142.1 L240.7,1142.1 L243.3,1142.0 L245.9,1141.5 L248.5,1141.4 L251.1,1141.4 L253.7,1141.8 L256.3,1141.8 L258.9,1142.0 L261.5,1142.0 L264.1,1142.0 L266.7,1142.4 L269.3,1142.1 L271.9,1141.8 L274.5,1141.7 L277.1,1142.1 L279.7,1142.1 L282.3,1141.7 L284.9,1141.8 L287.5,1141.8 L290.1,1141.5 L292.7,1141.8 L295.3,1142.1 L297.9,1141.7 L300.5,1142.1 L303.1,1142.4 L305.7,1141.9 L308.3,1141.8 L310.9,1142.0 L313.5,1142.1 L316.1,1142.0 L318.7,1141.6 L321.3,1141.7 L323.9,1141.9 L326.5,1142.0 L329.1,1142.2 L331.7,1142.0 L334.3,1142.0 L336.9,1142.4 L339.5,1142.0 L342.1,1141.8 L344.7,1141.9 L348.0,1142.0 L349.9,1142.2 L352.5,1142.1 L355.1,1141.9 L357.7,1141.8 L360.3,1141.9 L362.9,1142.4 L365.5,1142.5 L368.1,1142.1 L370.7,1142.1 L373.3,1142.0 L375.9,1141.8 L378.5,1141.7 L381.1,1141.6 L383.7,1141.4 L386.3,1141.6 L388.9,1142.0 L391.5,1142.1 L394.1,1141.8 L396.7,1141.8 L399.3,1142.1 L401.9,1142.2 L404.5,1141.7 L407.1,1141.5 L409.7,1141.6 L412.3,1141.7 L414.9,1141.6 L417.5,1141.6 L420.1,1141.5 L422.7,1141.7 L425.3,1141.5 L427.9,1141.5 L430.5,1141.6 L433.1,1141.2 L435.7,1141.3 L438.3,1141.6 L440.9,1141.7 L443.5,1141.3 L446.1,1140.9 L448.7,1141.3 L451.3,1141.4 L453.9,1141.0 L456.5,1140.8 L459.1,1141.3 L461.7,1141.6 L464.3,1141.4 L466.9,1141.3 L469.5,1141.0 L472.1,1140.9 L474.7,1140.7 L477.3,1140.5 L479.9,1140.5 L482.5,1140.3 L485.1,1140.2 L487.7,1140.1 L490.3,1140.1 L492.9,1140.0 L495.5,1139.7 L498.1,1139.2 L500.7,1139.0 L503.3,1138.3 L505.9,1138.1 L508.5,1137.4 L511.1,1136.2 L513.7,1135.6 L516.3,1135.0 L518.9,1133.5 L521.5,1131.6 L524.1,1129.9 L526.7,1128.7 L529.3,1127.7 L531.9,1127.3 L534.5,1126.9 L537.8,1126.8 L539.7,1126.9 L542.3,1127.6 L544.9,1128.9 L547.5,1130.7 L550.1,1131.9 L552.7,1132.7 L555.3,1133.5 L557.9,1133.8 L560.5,1134.4 L563.1,1134.9 L565.7,1135.4 L568.3,1135.7 L570.9,1135.7 L573.5,1135.5 L574.4,1135.6 L576.1,1135.7 L578.7,1135.9 L581.3,1135.6 L583.9,1135.5 L586.5,1135.3 L589.1,1134.7 L591.7,1134.1 L594.3,1133.4 L596.9,1133.3 L599.5,1132.7 L602.1,1131.5 L604.7,1130.7 L607.3,1130.1 L609.9,1129.2 L613.3,1128.6 L615.1,1128.7 L617.7,1129.0 L620.3,1129.8 L622.9,1131.1 L625.5,1131.8 L628.1,1132.6 L630.7,1133.5 L633.3,1134.3 L635.9,1134.8 L638.5,1134.9 L641.1,1135.0 L643.7,1135.4 L646.3,1136.0 L648.9,1136.3 L651.5,1136.1 L654.1,1136.2 L656.7,1136.6 L659.3,1136.7 L661.9,1137.2 L664.5,1137.7 L667.1,1137.6 L669.7,1138.1 L672.3,1138.4 L674.9,1138.3 L677.5,1138.7 L680.1,1138.7 L682.7,1138.7 L685.3,1139.0 L688.7,1138.9 L690.5,1138.7 L693.1,1138.4 L695.7,1138.1 L698.3,1137.9 L700.9,1137.8 L703.5,1137.8 L706.1,1137.5 L708.7,1137.3 L711.0,1137.2 L713.9,1137.5 L716.5,1138.1 L719.1,1138.8 L721.7,1139.0 L724.3,1138.8 L726.9,1139.3 L729.5,1139.6 L732.1,1139.9 L733.0,1139.9 L734.7,1140.0 L737.3,1139.9 L739.9,1139.5 L742.5,1139.5 L745.1,1139.4 L747.7,1139.4 L750.3,1140.1 L752.9,1139.6 L755.5,1138.9 L758.1,1138.8 L760.0,1139.1 L763.3,1139.0 L765.9,1138.7 L768.5,1138.8 L771.1,1139.2 L773.7,1139.4 L776.3,1139.7 L778.9,1139.8 L781.5,1140.0 L784.1,1139.7 L786.7,1140.1 L789.3,1140.0 L791.9,1140.2 L794.5,1140.5 L797.1,1140.2 L799.7,1140.5 L802.3,1140.8 L804.9,1141.0 L807.5,1140.7 L810.1,1141.1 L812.7,1141.3 L815.3,1141.3 L817.9,1141.4 L820.5,1141.3 L823.1,1141.1 L825.7,1141.2 L828.3,1141.3 L830.9,1141.9 L833.5,1142.0 L836.1,1141.7 L838.7,1142.0 L841.3,1141.8 L843.9,1141.5 L846.5,1141.7 L849.1,1142.0 L851.7,1141.9 L854.3,1141.7 L856.9,1142.0 L859.5,1141.9 L862.1,1141.7 L864.7,1141.6 L867.3,1142.0 L869.9,1142.1 L872.5,1141.7 L875.1,1141.8 L877.7,1141.9 L880.3,1141.9 L882.9,1141.9 L885.5,1142.3 L888.1,1142.2 L890.7,1142.1 L893.3,1142.1 L895.9,1142.4 L898.5,1142.1 L901.1,1141.6 L903.7,1142.0 L906.3,1141.9 L908.9,1141.7 L911.5,1141.8 L914.1,1141.8 L916.7,1142.1 L919.3,1142.1 L921.9,1141.8 L924.5,1142.1 L927.1,1142.1 L929.7,1141.6 L932.3,1142.2 L934.9,1142.4 L937.5,1142.4 L940.1,1142.5 L942.7,1142.1 L945.3,1141.9 L947.9,1142.1 L950.5,1142.2 L953.1,1142.1 L955.7,1141.6 L958.3,1142.1 L960.9,1142.8 L963.5,1142.6 L966.1,1142.5 L968.7,1142.4 L971.3,1142.3 L973.9,1142.5 L976.5,1142.5 L979.1,1142.3 L981.7,1142.3 L984.3,1142.5 L986.0,1142.3"/>
<path d="M1012.5,1148.5 L1014.6,1148.6 L1016.7,1148.8 L1018.8,1149.7 L1020.9,1149.9 L1023.0,1149.7 L1025.1,1150.0 L1027.2,1150.2 L1029.3,1150.8 L1031.4,1152.0 L1033.5,1151.9 L1036.0,1152.1 L1037.7,1152.0 L1039.8,1151.2 L1041.9,1150.2 L1044.0,1149.5 L1046.1,1149.5 L1048.2,1148.8 L1050.3,1147.1 L1052.4,1146.6 L1054.5,1146.7 L1056.6,1146.9 L1058.7,1146.5 L1060.8,1145.9 L1062.9,1145.1 L1065.0,1143.9 L1067.1,1143.0 L1069.2,1139.3 L1071.3,1130.5 L1073.4,1114.9 L1075.5,1088.9 L1077.6,1053.9 L1079.7,1017.6 L1081.8,979.1 L1083.9,933.4 L1086.0,848.8 L1088.1,778.0 L1090.9,758.3 L1092.3,764.8 L1094.4,793.0 L1096.5,851.8 L1098.6,947.1 L1100.7,1009.6 L1102.8,1050.8 L1104.9,1071.3 L1107.0,1083.7 L1109.1,1094.3 L1111.2,1102.7 L1113.3,1109.8 L1115.4,1115.6 L1117.5,1120.8 L1119.6,1125.5 L1121.7,1129.0 L1123.8,1130.6 L1125.9,1131.5 L1128.0,1132.1 L1130.1,1133.2 L1132.2,1133.6 L1134.3,1134.4 L1136.4,1135.3 L1138.5,1135.4 L1140.6,1135.4 L1142.7,1136.1 L1144.8,1136.2 L1146.9,1136.5 L1149.0,1137.4 L1151.1,1138.0 L1153.2,1138.6 L1155.3,1137.7 L1157.4,1137.9 L1160.0,1138.4 L1161.6,1138.6 L1163.7,1138.3 L1165.0,1138.7 L1167.9,1138.4 L1170.0,1138.2 L1172.1,1138.6 L1174.2,1139.1 L1176.3,1139.4 L1178.4,1139.6 L1180.5,1140.1 L1182.6,1140.9 L1184.7,1141.5 L1186.8,1141.8 L1188.9,1141.2 L1191.0,1141.5 L1193.1,1142.7 L1195.2,1142.6 L1197.3,1142.4 L1199.4,1142.3 L1201.5,1142.7 L1203.6,1142.9 L1205.7,1143.1 L1207.8,1143.4 L1209.9,1143.0 L1212.0,1142.9 L1214.1,1142.7 L1216.2,1143.1 L1218.3,1143.2 L1220.4,1143.8 L1222.5,1143.4 L1224.6,1143.8 L1226.7,1143.2 L1228.8,1142.8 L1230.0,1143.4 L1230.9,1143.5 L1233.0,1143.0 L1235.1,1142.6 L1237.2,1142.4 L1239.3,1143.1 L1241.4,1142.9 L1243.5,1141.0 L1245.6,1136.3 L1247.7,1125.1 L1249.8,1102.2 L1251.9,1074.0 L1254.0,1058.0 L1256.2,1054.3 L1258.2,1057.9 L1260.3,1077.9 L1262.4,1102.1 L1264.5,1118.6 L1266.6,1128.4 L1268.7,1133.6 L1270.8,1136.4 L1272.9,1138.5 L1275.0,1139.3 L1277.1,1138.5 L1279.0,1138.4 L1281.3,1137.4 L1283.4,1134.5 L1285.5,1126.3 L1287.6,1109.0 L1289.7,1087.6 L1291.8,1066.1 L1294.2,1062.2 L1296.0,1066.9 L1298.7,1082.9 L1300.2,1078.3 L1302.3,1070.5 L1304.4,1066.2 L1305.9,1066.3 L1308.6,1071.6 L1310.7,1079.7 L1312.8,1087.5 L1314.9,1094.2 L1317.0,1099.4 L1319.1,1103.7 L1321.2,1107.8 L1323.3,1110.2 L1325.6,1111.3 L1327.5,1111.4 L1329.6,1111.2 L1331.7,1111.0 L1333.8,1109.6 L1336.3,1108.7 L1338.0,1109.3 L1340.1,1111.3 L1342.2,1115.0 L1344.2,1117.2 L1346.4,1109.2 L1348.5,1096.1 L1350.6,1080.0 L1352.7,1068.8 L1354.8,1063.4 L1357.2,1061.8 L1359.0,1064.0 L1361.1,1068.4 L1363.2,1073.4 L1365.3,1076.7 L1366.7,1077.2 L1369.5,1075.7 L1371.6,1072.9 L1373.7,1066.5 L1375.8,1051.4 L1377.9,1037.3 L1380.0,1022.6 L1382.1,987.1 L1384.2,954.8 L1386.3,931.3 L1388.4,921.0 L1390.5,918.4 L1392.6,916.0 L1394.7,912.9 L1396.8,875.1 L1398.9,818.2 L1401.0,769.3 L1403.5,725.5 L1405.2,791.9 L1407.3,947.3 L1409.4,1008.8 L1411.5,1048.6 L1413.6,1068.7 L1415.7,1081.2 L1417.8,1087.4 L1419.9,1080.0 L1422.0,1063.6 L1424.1,1028.3 L1426.2,963.6 L1428.3,899.2 L1430.4,861.9 L1432.2,853.1 L1434.6,876.0 L1436.7,906.4 L1439.4,921.6 L1440.9,914.2 L1443.0,874.2 L1445.1,808.4 L1447.2,748.4 L1449.3,689.3 L1451.4,632.9 L1453.5,604.2 L1455.3,585.8 L1457.7,623.2 L1459.8,717.0 L1461.9,779.4 L1464.0,838.4 L1466.1,925.4 L1468.2,970.6 L1470.0,983.5 L1472.4,973.7 L1474.5,956.0 L1476.6,941.8 L1478.4,939.6 L1480.8,954.0 L1482.9,986.2 L1485.0,1011.7 L1487.1,1029.9 L1489.2,1044.3 L1491.3,1056.9 L1493.4,1068.7 L1495.5,1079.0 L1497.6,1087.2 L1499.7,1093.8 L1501.8,1097.3 L1503.9,1099.6 L1506.0,1101.1 L1508.1,1102.3 L1510.2,1104.1 L1512.3,1106.0 L1514.4,1107.2 L1516.5,1108.7 L1518.6,1110.2 L1519.8,1110.2 L1520.7,1110.2 L1522.8,1109.6 L1524.9,1104.7 L1527.0,1102.4 L1529.1,1104.8 L1531.2,1107.2 L1533.3,1109.2 L1535.0,1109.7 L1537.5,1110.3 L1539.6,1110.0 L1541.7,1109.1 L1543.8,1108.8 L1545.9,1108.3 L1548.0,1108.0 L1550.7,1109.0 L1552.2,1109.1 L1554.3,1108.4 L1556.4,1109.2 L1558.5,1109.6 L1560.0,1109.9 L1562.7,1110.1 L1564.8,1109.9 L1566.9,1106.4 L1569.0,1095.6 L1571.1,1081.5 L1573.2,1075.3 L1574.5,1073.8 L1577.4,1079.3 L1579.5,1091.5 L1581.6,1103.5 L1583.7,1106.7 L1585.8,1108.4 L1587.9,1113.6 L1590.0,1119.6 L1592.1,1121.1 L1594.2,1121.7 L1596.3,1122.3 L1598.4,1122.1 L1600.5,1122.2 L1602.6,1123.0 L1604.7,1123.9 L1606.8,1124.4 L1608.9,1124.1 L1611.5,1124.1 L1613.1,1124.1 L1615.2,1122.1 L1617.3,1119.3 L1619.4,1116.2 L1621.5,1113.0 L1623.6,1109.7 L1625.7,1106.0 L1627.8,1100.1 L1629.9,1090.8 L1632.0,1078.4 L1634.1,1071.4 L1636.1,1070.1 L1638.3,1073.1 L1640.4,1078.4 L1642.5,1082.1 L1644.6,1088.1 L1646.7,1097.8 L1648.8,1107.8 L1650.9,1109.2 L1651.9,1108.8 L1653.0,1107.1 L1655.1,1098.1 L1657.2,1092.6 L1659.3,1090.0 L1661.3,1088.5 L1663.5,1088.0 L1665.6,1088.7 L1667.7,1089.6 L1669.8,1091.9 L1671.9,1094.3 L1674.0,1094.6 L1676.1,1094.8 L1678.2,1095.2 L1680.3,1099.4 L1682.4,1103.2 L1684.9,1095.7 L1686.6,1096.7 L1688.7,1100.9 L1691.6,1104.6 L1692.9,1104.2 L1695.8,1102.5 L1697.1,1103.2 L1699.2,1103.0 L1701.3,1103.3 L1703.4,1104.3 L1705.5,1105.5 L1707.6,1107.0 L1709.7,1109.5 L1711.8,1112.2 L1713.4,1113.1 L1716.0,1110.7 L1717.6,1109.4 L1720.2,1114.7 L1722.3,1113.0 L1725.2,1110.5 L1726.5,1110.8 L1728.6,1111.5 L1730.7,1112.7 L1732.8,1113.2 L1734.9,1113.7 L1737.0,1114.7 L1739.1,1115.8 L1742.0,1115.9 L1743.3,1115.5 L1745.4,1113.5 L1747.0,1112.6 L1750.4,1118.2 L1751.7,1116.5 L1753.8,1111.5 L1755.9,1114.1 L1758.0,1116.1 L1760.1,1116.4 L1762.2,1116.7 L1764.7,1116.8 L1767.2,1107.2 L1768.5,1107.4 L1770.6,1107.7 L1772.7,1108.4 L1774.8,1112.3"/>
</g>
<g fill="#000" stroke="none">
<rect x="328" y="108" width="5" height="75" shape-rendering="crispEdges"/>
<path d="M330,91 L332,91 L337,111 L325,111 Z"/>
<path d="M330,200 L332,200 L337,180 L325,180 Z"/>
</g>
<text class="tk" transform="translate(298.5,1242) scale(1,1.01)">3150</text>
<text class="tk" transform="translate(527.5,1242) scale(1,1.01)">3000</text>
<text class="tk" transform="translate(756.5,1242) scale(1,1.01)">2850</text>
<text class="tk" transform="translate(1066.5,1242) scale(1,1.01)">1800</text>
<text class="tk" transform="translate(1230.5,1242) scale(1,1.01)">1500</text>
<text class="tk" transform="translate(1393.5,1242) scale(1,1.01)">1200</text>
<text class="tk" transform="translate(1556.5,1242) scale(1,1.01)">900</text>
<text class="tk" transform="translate(1720.5,1242) scale(1,1.01)">600</text>
<text class="pk" transform="translate(1027.3,221.3) scale(1,1.035)">1753</text>
<text class="pk" transform="translate(1386.3,83.2) scale(1,1.035)">1088</text>
<text class="pk" transform="translate(1309.8,231) scale(1,1.035)">1182</text>
<text class="pk" transform="translate(1153.4,493) scale(1,1.035)">1452</text>
<text class="pk" transform="translate(1253.3,519) scale(1,1.035)">1362</text>
<text class="" style="font-size:52px" transform="translate(370,158.7) scale(1,1.02)">0.02</text>
<text class="lb" transform="translate(257.8,572) scale(1,1.03)">PLA250</text>
<text class="lb" style="fill:#ff0000" transform="translate(248.5,726) scale(1,1.03)">PLA500</text>
<text class="lb" style="fill:#008000" transform="translate(245.2,912.7) scale(1,1.03)">PLA1000</text>
<text class="lb" style="fill:#0000ff" transform="translate(246.3,1090) scale(1,1.03)">PLA2000</text>
<text class="ax" x="693" y="1357.6">Wavenumber (cm<tspan x="1224.6" y="1322.4" style="font-size:37px">-1</tspan><tspan x="1258" y="1357.6">)</tspan></text>
<text class="ax" style="font-size:63.3px" transform="translate(76,830) rotate(-90) scale(1,1.05)">Log (1/R)</text>
</svg></body></html>
